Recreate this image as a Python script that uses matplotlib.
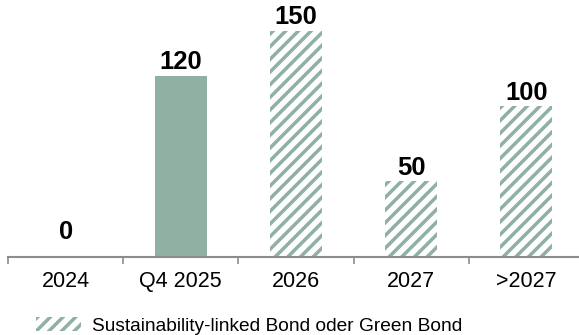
import matplotlib
matplotlib.use("Agg")
import matplotlib.pyplot as plt
from matplotlib.patches import Patch
import numpy as np

categories = ["2024", "Q4 2025", "2026", "2027", ">2027"]
values = [0, 120, 150, 50, 100]
hatched = [False, False, True, True, True]
legend_label = "Sustainability-linked Bond oder Green Bond"

green = "#8fb0a3"
axis_gray = "#8c8c8c"

# low dpi so the hatch stripes get the right spacing; sizes below are given
# as if at 100 dpi and converted
DPI = 76
W, H = 579, 335


def pt(p):
    return p * 100 / DPI


plt.rcParams["font.family"] = ["Liberation Sans", "DejaVu Sans"]
plt.rcParams["hatch.color"] = green
plt.rcParams["hatch.linewidth"] = 3.3

fig = plt.figure(figsize=(W / DPI, H / DPI), dpi=DPI)
ax = fig.add_axes([8 / W, 78.5 / H, 576 / W, 256 / H])

x = np.arange(len(categories))
for xi, v, h in zip(x, values, hatched):
    if h:
        ax.bar(xi, v, width=0.45, color="white", edgecolor=green, linewidth=0, hatch="//")
    else:
        ax.bar(xi, v, width=0.45, color=green, linewidth=0)
    off = 9 if v == 0 else 1
    ax.annotate(str(v), (xi, v), xytext=(0, pt(off)), textcoords="offset points",
                ha="center", va="bottom", fontsize=pt(18.5), fontweight="bold")

ax.set_xlim(-0.5, 4.5)
ax.set_ylim(0, 170)
ax.set_xticks(x)
ax.set_xticklabels(categories, fontsize=pt(15.5))
ax.set_xticks(np.arange(-0.5, 5, 1), minor=True)
ax.tick_params(axis="x", which="major", length=0, pad=pt(10.5))
ax.tick_params(axis="x", which="minor", length=pt(5), width=pt(1.2), color=axis_gray)
ax.set_yticks([])
for s in ["top", "right", "left"]:
    ax.spines[s].set_visible(False)
ax.spines["bottom"].set_color(axis_gray)
ax.spines["bottom"].set_linewidth(pt(1.5))

handle = Patch(facecolor="white", edgecolor=green, linewidth=0, hatch="//")
fig.legend([handle], [legend_label], loc="center left", bbox_to_anchor=(19 / W, 1 - 326 / H),
           frameon=False, fontsize=pt(13.8), handlelength=2.35, handleheight=0.68,
           handletextpad=0.57)

fig.savefig("out.png", dpi=DPI)
